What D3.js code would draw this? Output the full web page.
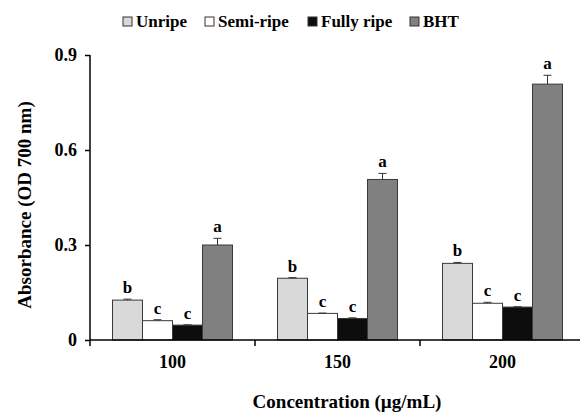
<!DOCTYPE html>
<html>
<head>
<meta charset="utf-8">
<script src="https://cdn.jsdelivr.net/npm/d3@7"></script>
<style>
  body { margin: 0; background: #fff; }
  text { font-family: "Liberation Serif", "Times New Roman", serif; font-weight: bold; fill: #000; }
</style>
</head>
<body>
<div id="chart"></div>
<script>
// data
var concentrations = ["100", "150", "200"];
var series = ["Unripe", "Semi-ripe", "Fully ripe", "BHT"];
var unripe    = [0.126, 0.195, 0.242];
var semiRipe  = [0.061, 0.084, 0.116];
var fullyRipe = [0.047, 0.068, 0.104];
var bht       = [0.300, 0.507, 0.808];
var unripeErr    = [0.003, 0.002, 0.003];
var semiRipeErr  = [0.003, 0.001, 0.003];
var fullyRipeErr = [0.001, 0.002, 0.001];
var bhtErr       = [0.021, 0.019, 0.028];
var letters = [["b", "b", "b"], ["c", "c", "c"], ["c", "c", "c"], ["a", "a", "a"]];
var yTicks = [0, 0.3, 0.6, 0.9];

var values = [unripe, semiRipe, fullyRipe, bht];
var errors = [unripeErr, semiRipeErr, fullyRipeErr, bhtErr];
var colors = ["#d9d9d9", "#ffffff", "#0d0d0d", "#808080"];

var width = 580, height = 413;
var margin = {top: 55, right: -5, bottom: 73, left: 90};

var svg = d3.select("#chart").append("svg")
    .attr("width", width)
    .attr("height", height);

var x0 = d3.scaleBand()
    .domain(concentrations)
    .range([margin.left, width - margin.right]);

var x1 = d3.scaleBand()
    .domain(series)
    .range([0, x0.bandwidth()])
    .paddingOuter(0.75);

var y = d3.scaleLinear()
    .domain([0, 0.9])
    .range([height - margin.bottom, margin.top]);

var color = d3.scaleOrdinal().domain(series).range(colors);

// flatten to one record per bar
var bars = [];
concentrations.forEach(function(c, i) {
    series.forEach(function(s, j) {
        bars.push({conc: c, name: s, value: values[j][i], err: errors[j][i], letter: letters[j][i]});
    });
});

var g = svg.append("g");

g.selectAll("rect.bar")
    .data(bars)
    .enter()
    .append("rect")
    .attr("class", "bar")
    .attr("x", function(d) { return x0(d.conc) + x1(d.name); })
    .attr("y", function(d) { return y(d.value); })
    .attr("width", x1.bandwidth())
    .attr("height", function(d) { return y(0) - y(d.value); })
    .style("fill", function(d) { return color(d.name); })
    .style("stroke", "#3a3a3a")
    .style("stroke-width", 1);

// error bars
var eb = g.selectAll("g.err")
    .data(bars)
    .enter()
    .append("g")
    .attr("class", "err")
    .attr("transform", function(d) {
        return "translate(" + (x0(d.conc) + x1(d.name) + x1.bandwidth() / 2) + ",0)";
    });

eb.append("line")
    .attr("x1", 0).attr("x2", 0)
    .attr("y1", function(d) { return y(d.value); })
    .attr("y2", function(d) { return y(d.value + d.err); })
    .style("stroke", "#333")
    .style("stroke-width", 1);

eb.append("line")
    .attr("x1", -4).attr("x2", 4)
    .attr("y1", function(d) { return y(d.value + d.err); })
    .attr("y2", function(d) { return y(d.value + d.err); })
    .style("stroke", "#333")
    .style("stroke-width", 1);

// significance letters
g.selectAll("text.letter")
    .data(bars)
    .enter()
    .append("text")
    .attr("class", "letter")
    .attr("x", function(d) { return x0(d.conc) + x1(d.name) + x1.bandwidth() / 2; })
    .attr("y", function(d) { return y(d.value + d.err) - 6; })
    .attr("text-anchor", "middle")
    .style("font-size", "17px")
    .text(function(d) { return d.letter; });

// y axis
var yAxis = svg.append("g")
    .attr("transform", "translate(" + margin.left + ",0)")
    .call(d3.axisLeft(y)
        .tickValues(yTicks)
        .tickSize(5)
        .tickPadding(8)
        .tickFormat(function(d) { return d === 0 ? "0" : d3.format(".1f")(d); }));
yAxis.select(".domain").attr("d", "M0," + y(0.9) + "V" + y(0)).style("stroke-width", 1.5);
yAxis.selectAll(".tick line").style("stroke-width", 1.5);
yAxis.selectAll(".tick text")
    .style("font-size", "18px")
    .style("font-family", "Liberation Serif, serif")
    .style("font-weight", "bold");

// x axis: line, ticks on band edges, labels at centres
var xAxis = svg.append("g")
    .attr("transform", "translate(0," + y(0) + ")");
xAxis.append("line")
    .attr("x1", x0.range()[0]).attr("x2", x0.range()[1])
    .style("stroke", "#000").style("stroke-width", 1.5);
xAxis.selectAll("line.tk")
    .data(concentrations)
    .enter()
    .append("line")
    .attr("class", "tk")
    .attr("x1", function(d) { return x0(d); })
    .attr("x2", function(d) { return x0(d); })
    .attr("y1", 0).attr("y2", 6)
    .style("stroke", "#000").style("stroke-width", 1.5);
xAxis.selectAll("text.lbl")
    .data(concentrations)
    .enter()
    .append("text")
    .attr("class", "lbl")
    .attr("x", function(d) { return x0(d) + x0.bandwidth() / 2; })
    .attr("y", 28)
    .attr("text-anchor", "middle")
    .style("font-size", "18px")
    .text(function(d) { return d; });

// axis titles
svg.append("text")
    .attr("x", 347)
    .attr("y", 408)
    .attr("text-anchor", "middle")
    .style("font-size", "19px")
    .text("Concentration (µg/mL)");

svg.append("text")
    .attr("transform", "translate(31,205) rotate(-90)")
    .attr("text-anchor", "middle")
    .style("font-size", "19px")
    .text("Absorbance (OD 700 nm)");

// legend
var legendX = [123, 205, 308, 410];
var legend = svg.selectAll("g.legend")
    .data(series)
    .enter()
    .append("g")
    .attr("class", "legend")
    .attr("transform", function(d, i) { return "translate(" + legendX[i] + ",17)"; });
legend.append("rect")
    .attr("width", 9).attr("height", 9)
    .style("fill", function(d) { return color(d); })
    .style("stroke", "#333")
    .style("stroke-width", 1);
legend.append("text")
    .attr("x", 13)
    .attr("y", 10)
    .style("font-size", "17px")
    .text(function(d) { return d; });
</script>
</body>
</html>
